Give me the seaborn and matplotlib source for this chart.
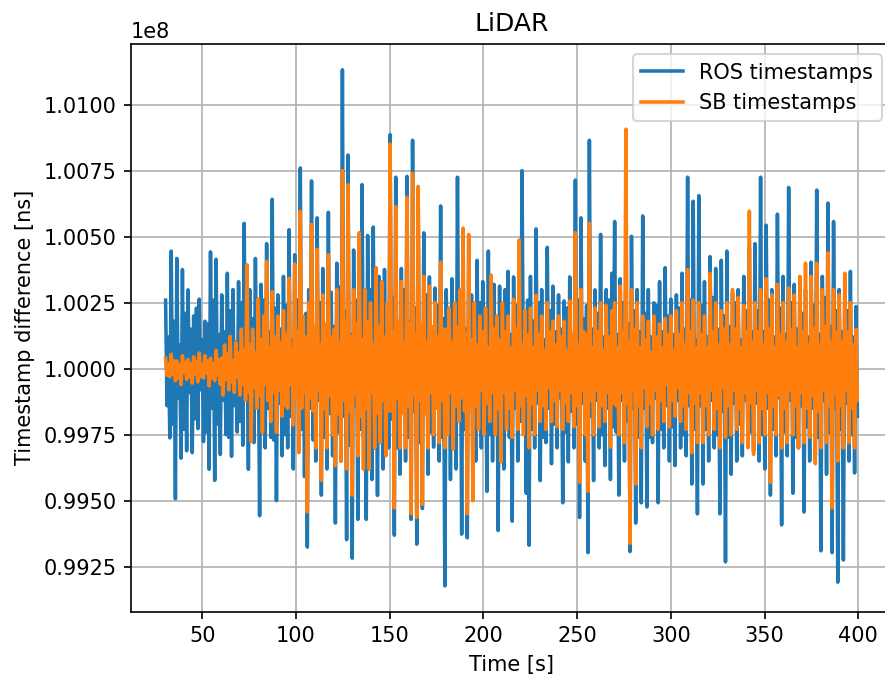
import numpy as np
import pandas as pd
import matplotlib
matplotlib.use("Agg")
import matplotlib.pyplot as plt
import seaborn as sns

# Deviation of the LiDAR timestamp difference from the nominal 100 ms, in microseconds.
# For every 1.5 s window: the upper swing and the lower swing of the signal.
ros_high_us = [
    260, 120, 446, 180, 418, 90, 376, 210, 299, 150,
    200, 230, 264, 110, 180, 170, 443, 260, 415, 130,
    280, 140, 362, 220, 300, 100, 330, 250, 551, 160,
    300, 190, 418, 120, 320, 260, 474, 140, 642, 230,
    280, 150, 350, 240, 527, 110, 432, 260, 761, 170,
    210, 300, 712, 140, 572, 250, 380, 120, 593, 290,
    160, 400, 310, 1133, 220, 810, 130, 450, 260, 400,
    698, 180, 505, 300, 537, 150, 350, 250, 376, 120,
    887, 270, 726, 140, 380, 300, 729, 180, 866, 230,
    649, 160, 515, 280, 348, 120, 306, 240, 617, 190,
    300, 220, 341, 130, 726, 260, 420, 150, 488, 280,
    140, 411, 250, 330, 110, 446, 270, 320, 190, 313,
    220, 300, 369, 130, 348, 240, 280, 751, 150, 260,
    350, 180, 530, 250, 300, 110, 460, 220, 313, 140,
    280, 150, 257, 230, 348, 120, 715, 260, 572, 190,
    240, 866, 150, 299, 210, 509, 120, 300, 260, 362,
    558, 130, 341, 250, 400, 170, 502, 220, 300, 140,
    579, 210, 300, 120, 250, 240, 330, 140, 383, 200,
    264, 130, 280, 230, 362, 150, 726, 260, 635, 110,
    656, 240, 330, 120, 425, 270, 380, 150, 411, 200,
    446, 160, 285, 250, 300, 110, 350, 220, 460, 140,
    474, 220, 726, 140, 544, 260, 300, 120, 586, 230,
    350, 130, 687, 250, 320, 150, 330, 210, 300, 120,
    404, 240, 677, 130, 350, 270, 628, 160, 558, 220,
    300, 140, 280, 220, 369, 120, 236,
]
ros_low_us = [
    -140, -262, -210, -493, -110, -339, -230, -311, -90, -318,
    -190, -227, -80, -276, -240, -381, -150, -423, -210, -325,
    -120, -250, -260, -332, -140, -240, -200, -290, -110, -381,
    -240, -280, -110, -557, -200, -300, -150, -260, -270, -500,
    -130, -330, -250, -300, -180, -380, -90, -290, -230, -409,
    -676, -150, -270, -350, -120, -479, -260, -380, -170, -330,
    -585, -240, -350, -180, -648, -290, -718, -140, -571, -230,
    -260, -571, -140, -420, -300, -480, -170, -380, -240, -300,
    -190, -631, -300, -400, -120, -350, -260, -571, -160, -665,
    -280, -530, -150, -400, -240, -297, -110, -350, -260, -823,
    -160, -420, -290, -380, -140, -627, -230, -641, -120, -437,
    -350, -210, -300, -130, -465, -250, -350, -160, -613, -240,
    -380, -120, -260, -578, -150, -350, -200, -110, -472, -669,
    -230, -300, -130, -424, -260, -280, -150, -360, -210, -300,
    -110, -508, -240, -353, -160, -300, -210, -564, -130, -350,
    -697, -180, -424, -120, -300, -250, -367, -150, -420, -220,
    -240, -479, -120, -350, -200, -693, -150, -585, -260, -508,
    -150, -524, -260, -280, -110, -508, -230, -300, -140, -350,
    -220, -367, -120, -300, -250, -330, -140, -437, -230, -550,
    -140, -437, -230, -350, -120, -300, -250, -550, -160, -732,
    -260, -400, -130, -350, -210, -330, -120, -280, -240, -311,
    -130, -350, -250, -380, -150, -479, -230, -330, -110, -592,
    -240, -330, -120, -472, -260, -300, -140, -543, -220, -350,
    -150, -330, -260, -690, -120, -400, -240, -697, -150, -809,
    -230, -725, -130, -350, -250, -395, -180,
]
sb_high_us = [
    40, 20, 55, 30, 30, 15, 50, 25, 35, 20,
    45, 25, 60, 15, 50, 30, 40, 20, 70, 35,
    40, 90, 55, 123, 30, 100, 60, 150, 70, 394,
    90, 150, 60, 264, 110, 200, 407, 80, 292, 120,
    200, 100, 220, 130, 343, 70, 397, 140, 597, 200,
    120, 250, 547, 160, 453, 90, 280, 170, 432, 120,
    150, 300, 100, 751, 180, 698, 120, 300, 170, 516,
    110, 300, 180, 250, 90, 383, 160, 330, 120, 250,
    852, 140, 614, 180, 330, 100, 649, 170, 740, 130,
    691, 170, 350, 100, 313, 160, 250, 120, 404, 150,
    150, 230, 100, 250, 160, 300, 533, 130, 509, 110,
    250, 90, 200, 140, 230, 80, 355, 150, 200, 110,
    250, 140, 200, 80, 264, 150, 488, 90, 220, 130,
    230, 80, 278, 130, 200, 70, 250, 140, 180, 90,
    200, 120, 180, 70, 257, 130, 516, 90, 300, 140,
    130, 551, 80, 230, 140, 250, 70, 240, 120, 220,
    250, 80, 313, 140, 908, 100, 300, 150, 250, 80,
    200, 110, 180, 60, 200, 120, 170, 80, 190, 130,
    200, 70, 220, 130, 250, 90, 376, 140, 260, 80,
    250, 130, 200, 80, 362, 140, 250, 90, 220, 150,
    250, 90, 300, 150, 270, 80, 240, 140, 597, 100,
    250, 140, 300, 90, 341, 150, 280, 80, 320, 130,
    250, 100, 306, 150, 280, 80, 350, 140, 400, 90,
    350, 150, 400, 90, 300, 160, 439, 100, 300, 140,
    280, 100, 362, 140, 250, 90, 150,
]
sb_low_us = [
    -25, -30, -20, -45, -35, -60, -15, -40, -30, -55,
    -20, -50, -30, -35, -15, -65, -35, -45, -25, -60,
    -100, -40, -80, -50, -90, -30, -100, -60, -120, -90,
    -276, -70, -150, -100, -241, -60, -120, -200, -90, -241,
    -80, -180, -140, -150, -60, -213, -110, -318, -150, -90,
    -543, -110, -160, -300, -80, -423, -150, -300, -100, -250,
    -367, -170, -350, -120, -380, -160, -479, -100, -330, -180,
    -381, -150, -381, -90, -300, -170, -280, -120, -330, -160,
    -160, -528, -110, -300, -170, -300, -140, -550, -100, -564,
    -120, -514, -170, -300, -90, -250, -150, -280, -120, -300,
    -250, -90, -304, -140, -200, -110, -160, -550, -140, -500,
    -140, -230, -80, -250, -130, -200, -90, -250, -150, -353,
    -90, -230, -150, -260, -80, -230, -140, -250, -100, -300,
    -130, -250, -80, -200, -140, -230, -70, -200, -120, -220,
    -80, -230, -130, -200, -90, -220, -140, -430, -80, -250,
    -465, -120, -250, -80, -220, -140, -200, -90, -297, -130,
    -140, -250, -90, -280, -130, -662, -80, -437, -140, -300,
    -70, -220, -130, -250, -80, -230, -120, -200, -60, -220,
    -120, -180, -70, -200, -140, -230, -90, -318, -130, -280,
    -90, -280, -140, -250, -80, -230, -150, -300, -70, -260,
    -140, -250, -80, -230, -150, -280, -90, -300, -130, -325,
    -80, -280, -150, -250, -90, -430, -140, -250, -100, -300,
    -150, -280, -80, -250, -140, -300, -90, -280, -150, -260,
    -100, -360, -160, -300, -80, -280, -140, -528, -90, -350,
    -140, -300, -80, -280, -150, -300, -120,
]

nominal_period_ns = 1e8
series_labels = ["ROS timestamps", "SB timestamps"]
t_first, t_last = 30.5, 399.5   # recording span [s], uniformly sampled


def swings_to_ns(high, low):
    # interleave the upper and lower swing of each window -> raw signal order
    seq = np.column_stack([high, low]).ravel().astype(float)
    return nominal_period_ns + seq * 1e3


ros_ns = swings_to_ns(ros_high_us, ros_low_us)
sb_ns = swings_to_ns(sb_high_us, sb_low_us)
time_s = np.linspace(t_first, t_last, len(ros_ns))

df = pd.DataFrame({"time": time_s, "ros": ros_ns, "sb": sb_ns})

dpi = 150
fig = plt.figure(figsize=(885 / dpi, 677 / dpi), dpi=dpi)
ax = fig.add_axes([131 / 885, 65.3 / 677, 761 / 885, 567.7 / 677])

sns.lineplot(data=df, x="time", y="ros", ax=ax, color="#1f77b4",
             label=series_labels[0], estimator=None, sort=False, linewidth=1.7)
sns.lineplot(data=df, x="time", y="sb", ax=ax, color="#ff7f0e",
             label=series_labels[1], estimator=None, sort=False, linewidth=1.7)

ax.grid(True, color="#b0b0b0", linewidth=0.8)
ax.ticklabel_format(axis="y", useOffset=False)
ax.set_title("LiDAR")
ax.set_xlabel("Time [s]")
ax.set_ylabel("Timestamp difference [ns]")
ax.legend(loc="upper right")

fig.savefig("out.png", dpi=dpi)
